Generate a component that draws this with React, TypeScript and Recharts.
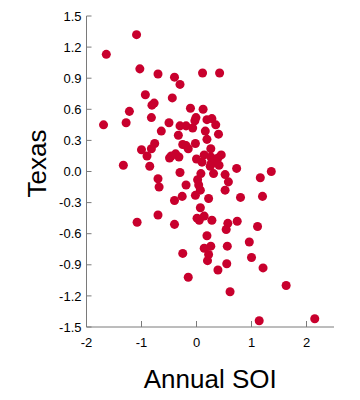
import React from 'react';
import { ScatterChart, Scatter, XAxis, YAxis, ZAxis } from 'recharts';

// Annual SOI (x) vs Texas (y)
const soi = [
  -1.64, -1.09, -1.69, -1.03, -0.7, -0.4, -0.3, 0.11, 0.42, -0.93,
  -0.44, -1.22, -0.81, -0.77, -1.28, -0.82, -0.5, -0.64, -0.3, -0.19,
  -0.07, -0.33, -0.11, 0.12, -0.01, -0.03, 0.19, 0.28, 0.35, 0.16,
  0.4, -0.76, -1.0, -0.82, -0.9, -1.33, -0.85, -0.49, -0.46, -0.38,
  -0.32, -0.25, -0.19, -0.15, -0.02, 0.19, 0.26, 0.14, 0.0, 0.1,
  0.26, 0.39, 0.45, 0.32, 0.27, 0.25, 0.41, 0.73, -0.3, 0.08,
  0.31, 0.52, 0.58, 1.36, 1.16, -0.7, -0.68, -0.19, 0.02, 0.04,
  0.07, 0.52, -0.26, -0.02, 0.22, 0.8, 1.2, -0.4, 0.07, -0.7,
  -1.08, -0.4, 0.01, 0.05, 0.14, 0.28, 0.57, 0.54, 0.74, 1.11,
  0.19, 0.26, 0.14, 0.56, 0.96, 0.22, 0.2, -0.25, 1.0, 0.55,
  0.39, 1.21, -0.15, 1.63, 0.61, 1.14, 2.15,
];

const texas = [
  1.13, 1.32, 0.45, 0.99, 0.94, 0.91, 0.84, 0.95, 0.95, 0.74,
  0.71, 0.58, 0.64, 0.66, 0.47, 0.52, 0.47, 0.39, 0.44, 0.44,
  0.42, 0.35, 0.61, 0.6, 0.52, 0.49, 0.5, 0.51, 0.45, 0.39,
  0.36, 0.27, 0.21, 0.22, 0.15, 0.06, 0.05, 0.13, 0.15, 0.17,
  0.14, 0.26, 0.25, 0.22, 0.27, 0.31, 0.22, 0.16, 0.12, 0.09,
  0.14, 0.13, 0.16, 0.09, 0.08, 0.05, 0.06, 0.03, -0.01, -0.02,
  -0.02, -0.03, -0.1, 0.0, -0.06, -0.07, -0.15, -0.13, -0.08, -0.13,
  -0.18, -0.18, -0.24, -0.23, -0.26, -0.25, -0.24, -0.28, -0.35, -0.42,
  -0.49, -0.51, -0.45, -0.47, -0.43, -0.47, -0.5, -0.56, -0.48, -0.53,
  -0.62, -0.72, -0.74, -0.72, -0.68, -0.8, -0.86, -0.79, -0.83, -0.89,
  -0.95, -0.93, -1.02, -1.1, -1.16, -1.44, -1.42,
];

const xTicks = [-2, -1, 0, 1, 2];
const yTicks = [-1.5, -1.2, -0.9, -0.6, -0.3, 0, 0.3, 0.6, 0.9, 1.2, 1.5];

const data = soi.map((x, i) => ({ x, y: texas[i] }));

const FONT = '"Liberation Sans", Arial, Helvetica, sans-serif';
const AXIS = '#7a7a7a';

const YTitle = (props: any) => {
  const { viewBox } = props;
  const cx = viewBox.x + 36;
  const cy = viewBox.y + viewBox.height / 2 - 8;
  return (
    <text
      x={cx}
      y={cy}
      transform={`rotate(-90 ${cx} ${cy})`}
      textAnchor="middle"
      dominantBaseline="central"
      fontSize={26}
      fontFamily={FONT}
      fill="#000"
    >
      Texas
    </text>
  );
};

export default function App() {
  return (
    <div style={{ position: 'absolute', left: 0, top: 0, width: 360, height: 400, background: '#fff' }}>
      <ScatterChart width={360} height={400} margin={{ top: 16, right: 26, bottom: 0, left: 0.5 }}>
        <XAxis
          type="number"
          dataKey="x"
          domain={[-2, 2.5]}
          ticks={xTicks}
          allowDataOverflow
          height={73}
          stroke={AXIS}
          tickSize={-6}
          tickMargin={17}
          tick={{ fill: '#000', fontSize: 13, fontFamily: FONT }}
          label={{ value: 'Annual SOI', position: 'insideBottom', offset: 12, fontSize: 26, fontFamily: FONT, fill: '#000' }}
        />
        <YAxis
          type="number"
          dataKey="y"
          domain={[-1.5, 1.5]}
          ticks={yTicks}
          allowDataOverflow
          width={86}
          stroke={AXIS}
          tickSize={-5}
          tickMargin={10}
          tickFormatter={(v: number) => v.toFixed(1)}
          tick={{ fill: '#000', fontSize: 13, fontFamily: FONT }}
          label={{ content: YTitle }}
        />
        <ZAxis range={[36, 36]} />
        <Scatter data={data} fill="#c8002d" isAnimationActive={false} />
      </ScatterChart>
    </div>
  );
}
